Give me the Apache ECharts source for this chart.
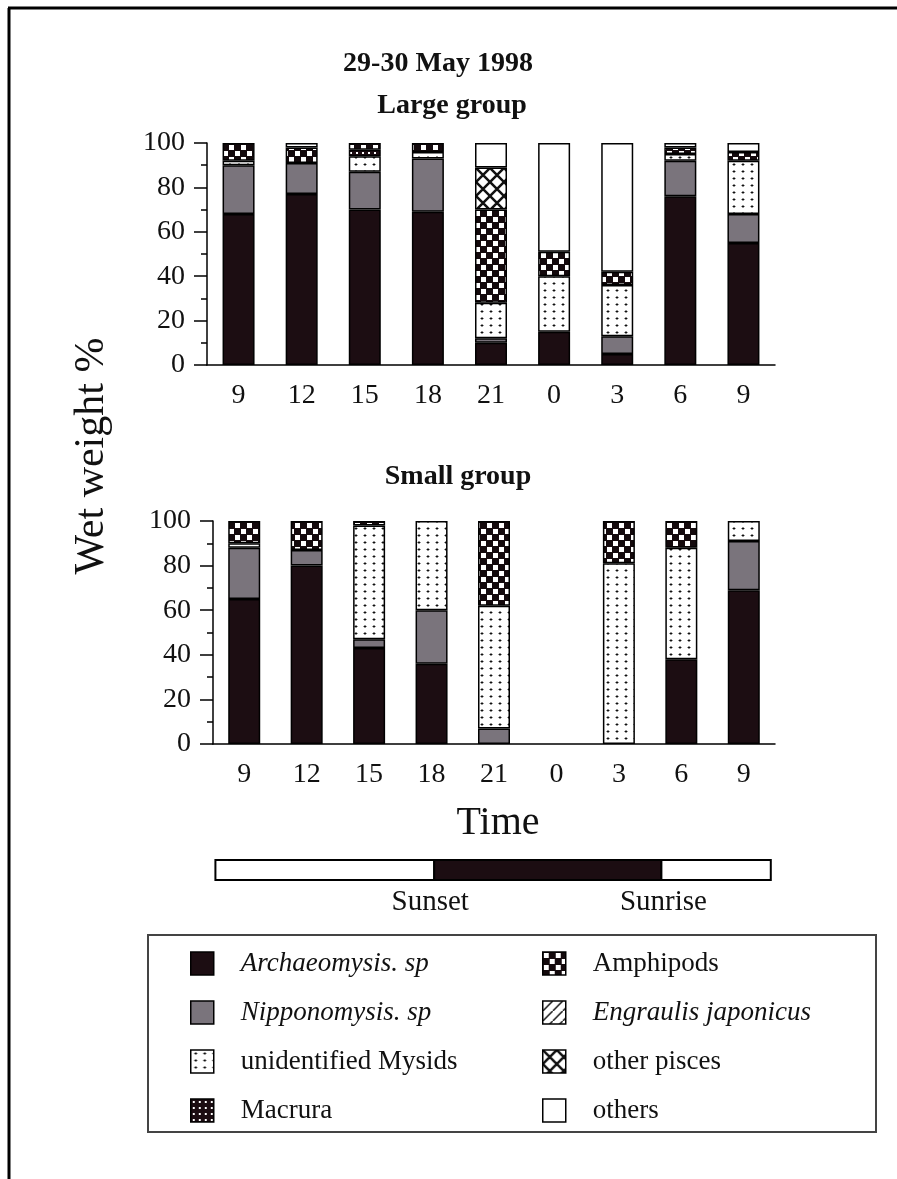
<!DOCTYPE html>
<html>
<head>
<meta charset="utf-8">
<script src="https://cdn.jsdelivr.net/npm/echarts@6/dist/echarts.min.js"></script>
<style>
  html, body { margin: 0; padding: 0; background: #fff; }
  #chart { width: 897px; height: 1179px; }
</style>
</head>
<body>
<div id="chart"></div>
<script>
// Sampling times (hour of day), 29-30 May 1998
const times = ['9', '12', '15', '18', '21', '0', '3', '6', '9'];

// Prey categories, bottom to top of each stacked bar
const preyNames = ['Archaeomysis. sp', 'Nipponomysis. sp', 'unidentified Mysids', 'Macrura',
                   'Amphipods', 'Engraulis japonicus', 'other pisces', 'others'];
const italicNames = ['Archaeomysis. sp', 'Nipponomysis. sp', 'Engraulis japonicus'];

// Large group: wet weight % per prey category
const largeArchaeomysis = [68, 77, 70, 69, 10, 15, 5, 76, 55];
const largeNipponomysis = [22, 14, 17, 24, 2, 0, 8, 16, 13];
const largeMysids       = [2, 0, 7, 3, 16, 25, 23, 3, 24];
const largeMacrura      = [0, 0, 3, 0, 0, 0, 0, 0, 0];
const largeAmphipods    = [8, 7, 3, 4, 42, 11, 6, 3, 4];
const largeEngraulis    = [0, 0, 0, 0, 0, 0, 0, 0, 0];
const largePisces       = [0, 0, 0, 0, 19, 0, 0, 0, 0];
const largeOthers       = [0, 2, 0, 0, 11, 49, 58, 2, 4];

// Small group: wet weight % per prey category (no sample at 0 h)
const smallArchaeomysis = [65, 80, 43, 36, 0, 0, 0, 38, 69];
const smallNipponomysis = [23, 7, 4, 24, 7, 0, 0, 0, 22];
const smallMysids       = [2, 0, 51, 40, 55, 0, 81, 50, 9];
const smallMacrura      = [0, 0, 0, 0, 0, 0, 0, 0, 0];
const smallAmphipods    = [10, 13, 2, 0, 38, 0, 19, 12, 0];
const smallEngraulis    = [0, 0, 0, 0, 0, 0, 0, 0, 0];
const smallPisces       = [0, 0, 0, 0, 0, 0, 0, 0, 0];
const smallOthers       = [0, 0, 0, 0, 0, 0, 0, 0, 0];

// Light / dark periods on a continuous hour scale (hours after midnight of 29 May)
const lightPhases = [[7.9, 18.3, 0], [18.3, 29.1, 1], [29.1, 34.3, 0]];
const phaseLabels = ['Sunset', 'Sunrise'];

const yTicks = { min: 0, max: 100, interval: 20 };

const SERIF = '"Liberation Serif", "DejaVu Serif", serif';

// ---- fill patterns ----
function pattern(w, h, draw) {
  const c = document.createElement('canvas');
  c.width = w; c.height = h;
  const g = c.getContext('2d');
  draw(g, w, h);
  return { image: c, repeat: 'repeat' };
}
const fills = [
  '#1c0d12',
  '#7a747c',
  pattern(9, 7, (g, w, h) => {             // unidentified Mysids: dotted
    g.fillStyle = '#fff'; g.fillRect(0, 0, w, h);
    g.fillStyle = '#999'; g.fillRect(3, 3, 4, 1); g.fillRect(4, 2, 2, 3);
    g.fillStyle = '#111'; g.fillRect(4, 3, 2, 1);
  }),
  pattern(6, 6, (g, w, h) => {             // Macrura: dark with small light dots
    g.fillStyle = '#1c0d12'; g.fillRect(0, 0, w, h);
    g.fillStyle = '#fff'; g.fillRect(2, 2, 2, 2);
  }),
  pattern(12, 12, (g, w, h) => {           // Amphipods: checker
    g.fillStyle = '#140a0d'; g.fillRect(0, 0, w, h);
    g.fillStyle = '#fff'; g.fillRect(1, 1, 5, 5); g.fillRect(7, 7, 5, 5);
  }),
  pattern(10, 10, (g, w, h) => {           // Engraulis japonicus: diagonal
    g.fillStyle = '#fff'; g.fillRect(0, 0, w, h);
    g.strokeStyle = '#111'; g.lineWidth = 1.5;
    g.beginPath(); g.moveTo(0, h); g.lineTo(w, 0); g.stroke();
  }),
  pattern(14, 14, (g, w, h) => {           // other pisces: cross-hatch
    g.fillStyle = '#fff'; g.fillRect(0, 0, w, h);
    g.strokeStyle = '#111'; g.lineWidth = 2.5;
    g.beginPath();
    g.moveTo(0, 0); g.lineTo(w, h);
    g.moveTo(w, 0); g.lineTo(0, h);
    g.stroke();
  }),
  '#ffffff'
];

const largeSets = [largeArchaeomysis, largeNipponomysis, largeMysids, largeMacrura,
                   largeAmphipods, largeEngraulis, largePisces, largeOthers];
const smallSets = [smallArchaeomysis, smallNipponomysis, smallMysids, smallMacrura,
                   smallAmphipods, smallEngraulis, smallPisces, smallOthers];

function barSeries(sets, idx, stack) {
  return sets.map((vals, k) => ({
    type: 'bar',
    name: preyNames[k],
    stack: stack,
    xAxisIndex: idx,
    yAxisIndex: idx,
    barWidth: 32,
    // empty segments are left out so they do not draw a zero-height outline
    data: vals.map(v => (v > 0 ? v : null)),
    itemStyle: { color: fills[k], borderColor: '#000', borderWidth: 1.5 },
    emphasis: { disabled: true },
    silent: true
  }));
}

function catAxis(idx) {
  return {
    type: 'category', gridIndex: idx, data: times,
    axisLine: { lineStyle: { color: '#000', width: 1.5 } },
    axisTick: { length: 13, alignWithLabel: false, lineStyle: { color: '#000', width: 1.5 } },
    axisLabel: { color: '#111', fontSize: 28, fontFamily: SERIF, margin: 17 }
  };
}
function valAxis(idx) {
  return {
    type: 'value', gridIndex: idx, min: yTicks.min, max: yTicks.max, interval: yTicks.interval,
    axisLine: { show: true, lineStyle: { color: '#000', width: 1.5 } },
    axisTick: { show: true, length: 13, lineStyle: { color: '#000', width: 1.5 } },
    minorTick: { show: true, splitNumber: 2, length: 6, lineStyle: { color: '#000', width: 1.5 } },
    splitLine: { show: false },
    axisLabel: { color: '#111', fontSize: 28, fontFamily: SERIF, margin: 22 }
  };
}

const legendText = {
  fontFamily: SERIF, fontSize: 27, color: '#111',
  rich: {
    i: { fontFamily: SERIF, fontSize: 27, fontStyle: 'italic', color: '#111',
         padding: [0, 0, 0, 22] },
    n: { fontFamily: SERIF, fontSize: 27, color: '#111',
         padding: [0, 0, 0, 22] }
  }
};
function legendBlock(names, left) {
  return {
    data: names, orient: 'vertical', left: left, top: 945,
    icon: 'rect', itemWidth: 23, itemHeight: 23, itemGap: 22,
    selectedMode: false,
    itemStyle: { borderColor: '#000', borderWidth: 1.5 },
    formatter: n => (italicNames.includes(n) ? '{i|' + n + '}' : '{n|' + n + '}'),
    textStyle: legendText
  };
}

const titleFont = { fontFamily: SERIF, fontSize: 28, fontWeight: 'bold', color: '#111' };

const chart = echarts.init(document.getElementById('chart'), null, { renderer: 'canvas' });
chart.setOption({
  animation: false,
  backgroundColor: '#fff',
  title: [
    { text: '29-30 May 1998', left: 433, top: 45, textAlign: 'center', textStyle: titleFont },
    { text: 'Large group', left: 447, top: 87, textAlign: 'center', textStyle: titleFont },
    { text: 'Small group', left: 453, top: 458, textAlign: 'center', textStyle: titleFont },
    { text: 'Time', left: 493, top: 798, textAlign: 'center',
      textStyle: { fontFamily: SERIF, fontSize: 40, fontWeight: 'normal', color: '#111' } }
  ],
  grid: [
    { left: 207, top: 143, width: 568, height: 222 },
    { left: 213, top: 521, width: 562, height: 223 },
    { left: 207, top: 860, width: 568, height: 20 }
  ],
  xAxis: [catAxis(0), catAxis(1),
    { type: 'value', gridIndex: 2, min: 7.5, max: 34.5, show: false }],
  yAxis: [valAxis(0), valAxis(1),
    { type: 'category', gridIndex: 2, data: ['light'], show: false }],
  legend: [legendBlock(preyNames.slice(0, 4), 185), legendBlock(preyNames.slice(4), 537)],
  graphic: [
    { type: 'line', shape: { x1: 8, y1: 8, x2: 897, y2: 8 }, style: { stroke: '#000', lineWidth: 3 } },
    { type: 'line', shape: { x1: 9, y1: 8, x2: 9, y2: 1179 }, style: { stroke: '#000', lineWidth: 3 } },
    { type: 'rect', shape: { x: 148, y: 935, width: 728, height: 197 },
      style: { fill: 'none', stroke: '#444', lineWidth: 2 } },
    { type: 'text', x: 92, y: 456, rotation: Math.PI / 2,
      style: { text: 'Wet weight %', fontFamily: SERIF, fontSize: 42, fill: '#111',
               textAlign: 'center', textVerticalAlign: 'middle' } }
  ],
  series: [
    ...barSeries(largeSets, 0, 'large'),
    ...barSeries(smallSets, 1, 'small'),
    {
      type: 'custom', xAxisIndex: 2, yAxisIndex: 2, silent: true,
      data: lightPhases,
      encode: { x: [0, 1] },
      renderItem: function (params, api) {
        const s = api.coord([api.value(0), 0]);
        const e = api.coord([api.value(1), 0]);
        const h = 20;
        const night = api.value(2) === 1;
        const children = [{
          type: 'rect',
          shape: { x: s[0], y: s[1] - h / 2, width: e[0] - s[0], height: h },
          style: { fill: night ? '#1c0d12' : '#fff', stroke: '#000', lineWidth: 2 }
        }];
        if (night) {
          [s[0], e[0]].forEach((x, k) => children.push({
            type: 'text',
            style: { text: phaseLabels[k], x: x - 4 + k * 6, y: s[1] + h / 2 + 22, fontFamily: SERIF,
                     fontSize: 29, fill: '#111', align: 'center', verticalAlign: 'middle' }
          }));
        }
        return { type: 'group', children: children };
      }
    }
  ]
});
</script>
</body>
</html>
